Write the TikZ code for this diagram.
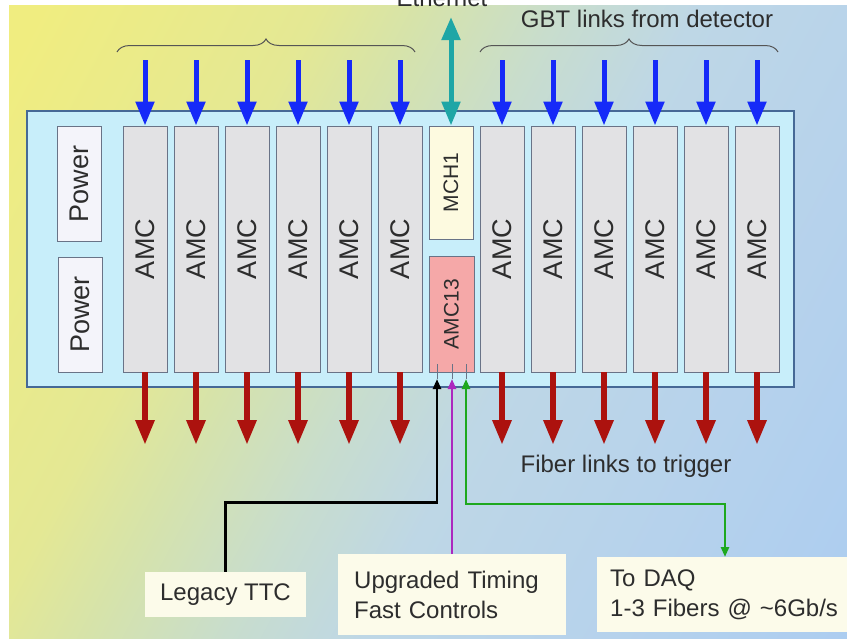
\documentclass[tikz,border=0pt]{standalone}
\usepackage{fontspec}
\usepackage{graphicx}
\setmainfont{Liberation Sans}
\usetikzlibrary{arrows.meta,decorations.pathreplacing,calc,shadings}

% palette
\definecolor{bgY}{RGB}{240,237,128}
\definecolor{bgYG}{RGB}{228,232,148}
\definecolor{bgG}{RGB}{214,227,170}
\definecolor{bgM}{RGB}{200,221,205}
\definecolor{bgL}{RGB}{190,215,230}
\definecolor{bgLB}{RGB}{182,210,236}
\definecolor{bgB}{RGB}{172,205,240}
\definecolor{cratefill}{RGB}{200,238,250}
\definecolor{crateline}{RGB}{70,105,150}
\definecolor{cardfill}{RGB}{226,226,228}
\definecolor{cardline}{RGB}{105,115,135}
\definecolor{powerfill}{RGB}{244,244,250}
\definecolor{mchfill}{RGB}{253,250,224}
\definecolor{amcpink}{RGB}{245,168,168}
\definecolor{notefill}{RGB}{252,251,234}
\definecolor{txtgray}{RGB}{45,45,45}
\definecolor{gbtblue}{RGB}{22,42,248}
\definecolor{ethteal}{RGB}{30,166,166}
\definecolor{trigred}{RGB}{172,18,14}
\definecolor{ufcmag}{RGB}{172,40,190}
\definecolor{daqgreen}{RGB}{30,168,30}
\definecolor{bracegray}{RGB}{85,85,85}

% soft yellow-to-blue wash behind the crate
\pgfdeclarehorizontalshading{bgwash}{100bp}{color(0bp)=(bgY); color(18bp)=(bgY);
  color(34bp)=(bgYG); color(40bp)=(bgG); color(48bp)=(bgM); color(56bp)=(bgL);
  color(70bp)=(bgLB); color(84bp)=(bgB); color(100bp)=(bgB)}

\newcommand\bigfont{\fontsize{27pt}{30pt}\selectfont}
\newcommand\midfont{\fontsize{21pt}{24pt}\selectfont}
\newcommand\labfont{\fontsize{24pt}{30pt}\selectfont}

\begin{document}
\begin{tikzpicture}[x=1pt,y=-1pt,
  crate/.style={draw=crateline,line width=1.1pt,fill=cratefill,inner sep=0pt,
    minimum width=767pt,minimum height=276pt},
  card/.style={draw=cardline,line width=0.8pt,fill=cardfill,inner sep=0pt,
    minimum width=44pt,minimum height=246pt,text=txtgray,font=\bigfont},
  powerbox/.style={draw=cardline,line width=0.8pt,fill=powerfill,inner sep=0pt,
    minimum width=44pt,minimum height=115pt,text=txtgray,font=\bigfont},
  mchbox/.style={draw=cardline,line width=0.8pt,fill=mchfill,inner sep=0pt,
    minimum width=44pt,minimum height=113pt,text=txtgray,font=\midfont},
  amcbox/.style={draw=cardline,line width=0.8pt,fill=amcpink,inner sep=0pt,
    minimum width=45pt,minimum height=116pt,text=txtgray,font=\midfont},
  lab/.style={text=txtgray,font=\labfont,inner sep=0pt},
  note/.style={fill=notefill,text=txtgray,font=\labfont,align=left,inner ysep=0pt},
  gbt/.style={draw=gbtblue,line width=5pt,-{Triangle[width=18pt,length=24pt]}},
  trig/.style={draw=trigred,line width=6pt,-{Triangle[width=18pt,length=25pt]}},
  eth/.style={draw=ethteal,line width=5pt,
    {Triangle[width=18pt,length=23pt]}-{Triangle[width=18pt,length=24pt]}},
  pin/.style={draw=cardline,line width=0.7pt},
  smalltip/.style={-{Triangle[width=8pt,length=10pt]}},
  gbtbrace/.style={draw=bracegray,line width=1pt,decorate,
    decoration={brace,amplitude=13pt}}
]
\useasboundingbox (0,0) rectangle (847,640);
\fill[white] (0,0) rectangle (847,640);
\shade[shading=bgwash,shading angle=-28] (9,5) rectangle (847,638);

% crate and its modules
\node[crate] (crate) at (410.5,249) {};
\node[powerbox] (pwr1) at (79,184) {\rotatebox{90}{Power}};
\node[powerbox] (pwr2) at (80,314.5) {\rotatebox{90}{Power}};
\node[mchbox] (mch) at (451,182.5) {\rotatebox{90}{MCH1}};
\node[amcbox] (amc13) at (451.5,314) {\rotatebox{90}{AMC13}};

\foreach \k in {1,...,12}{
  \pgfmathsetmacro\cx{\k<7 ? 94+51*\k : 145+51*\k}
  \node[card] (amc\k) at (\cx,249) {\rotatebox{90}{AMC}};
  \coordinate (in\k) at (\cx,60);
  \coordinate (out\k) at (\cx,445);
  \draw[gbt] (in\k) -- (amc\k.north);
  \draw[trig] (amc\k.south) -- (out\k);
}

% ethernet uplink of the MCH
\node[lab,anchor=base] (eth) at (442,6) {Ethernet};
\coordinate (ethtop) at (451,17);
\draw[eth] (ethtop) -- (mch.north);

% braces over the GBT inputs
\coordinate (bL1) at (117,52);
\coordinate (bL2) at (415,52);
\coordinate (bR1) at (480,52);
\coordinate (bR2) at (778,52);
\draw[gbtbrace] (bL1) -- (bL2);
\draw[gbtbrace] (bR1) -- (bR2);
\node[lab] (gbtlab) at (647,19) {GBT links from detector};
\node[lab,anchor=base] (triglab) at (626,472) {Fiber links to trigger};

% AMC13 backplane pins
\coordinate (pinA) at (437,379);
\coordinate (pinB) at (452,379);
\coordinate (pinC) at (466,379);
\foreach \p in {pinA,pinB,pinC}{
  \draw[pin] (\p) -- (\p |- 0,364);
}

% timing and DAQ boxes
\node[note,minimum width=161pt,minimum height=45pt] (legacy) at (225.5,594.5) {Legacy TTC};
\node[note,anchor=north west,minimum height=81pt,
  text width=195pt,inner xsep=16.5pt] (ufc) at (337.5,554) {Upgraded Timing\\Fast Controls};
\node[note,anchor=north west,minimum height=75pt,
  text width=235pt,inner xsep=13pt] (daq) at (597,557) {To DAQ\\1-3 Fibers @ \textasciitilde6Gb/s};

% connectors to the AMC13
\draw[black,line width=2.8pt,smalltip] (legacy.north) -- ++(0,-69) -| (pinA);
\draw[ufcmag,line width=2.4pt,smalltip] (pinB |- ufc.north) -- (pinB);
\draw[daqgreen,line width=2.5pt,{Triangle[width=8pt,length=10pt]}-{Triangle[width=8pt,length=10pt]}]
  (pinC) -- ++(0,125) -| ($(daq.north west)+(128,0)$);
\end{tikzpicture}
\end{document}
